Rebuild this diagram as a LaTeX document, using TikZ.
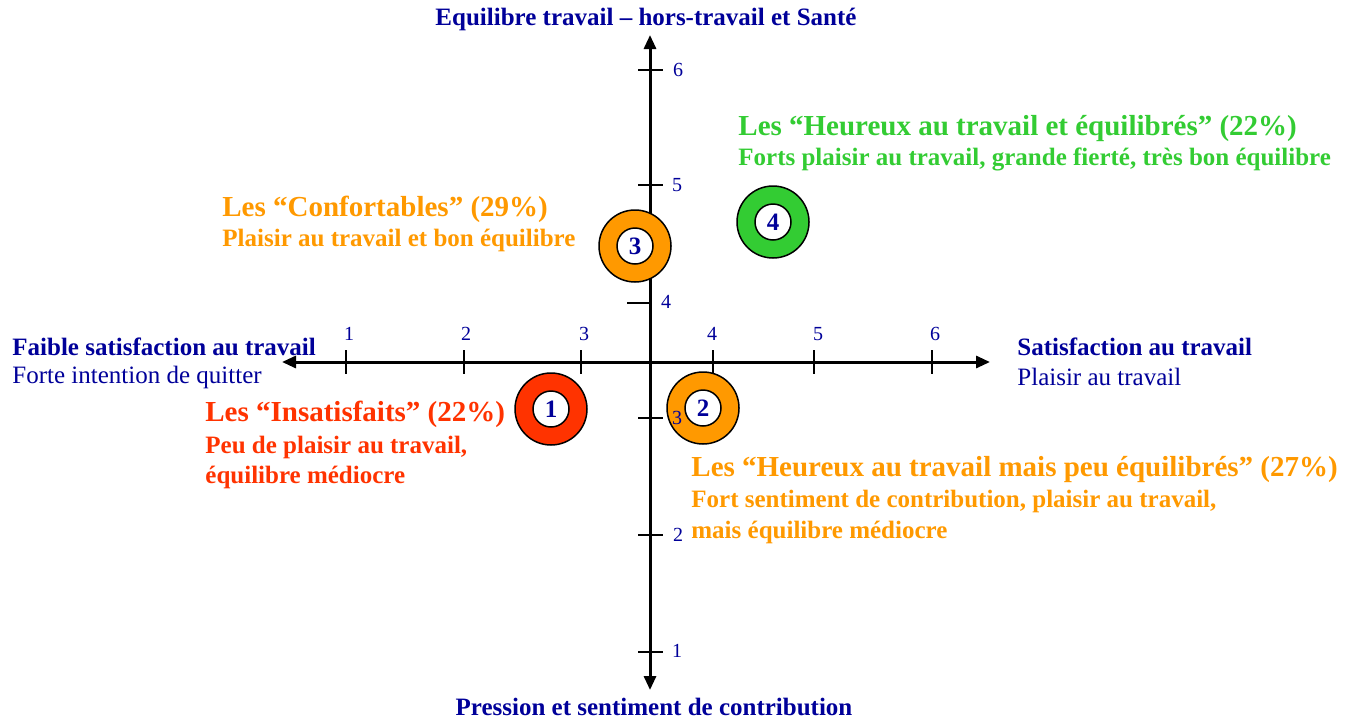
\documentclass[tikz,border=0pt]{standalone}
\usepackage{fontspec}
\setmainfont{Liberation Serif}
\usetikzlibrary{arrows.meta}
\definecolor{navy}{HTML}{000099}
\definecolor{ringgreen}{HTML}{33CC33}
\definecolor{ringorange}{HTML}{FF9900}
\definecolor{ringred}{HTML}{FF3300}
\tikzset{%
  axis/.style={line width=1.5pt,
    {Triangle[length=7pt,width=6pt]}-{Triangle[length=7pt,width=6pt]}},
  axistick/.style={line width=1pt},
  ticklabel/.style={text=navy,inner sep=0pt,
    font=\fontsize{10}{12}\selectfont},
  axislabel/.style={text=navy,inner sep=0pt,
    font=\fontsize{12.5}{15}\selectfont},
  ring/.style={circle,draw,line width=0.75pt,fill=#1,
    minimum size=36pt,inner sep=0pt},
  hole/.style={circle,draw,line width=0.75pt,fill=white,
    minimum size=18pt,inner sep=0pt,text=navy,
    font=\bfseries\fontsize{12.5}{15}\selectfont},
  grouphead/.style={text=#1,inner sep=0pt,anchor=west,
    font=\bfseries\fontsize{14.5}{17}\selectfont},
  groupbody/.style={text=#1,inner sep=0pt,anchor=west,align=left,
    font=\bfseries\fontsize{12.5}{15.25}\selectfont},
}
\begin{document}
\begin{tikzpicture}[x=0.5pt,y=-0.5pt]
  \useasboundingbox (0,0) rectangle (1347,718);
  % axes
  \coordinate (xl) at (282,362);
  \coordinate (xr) at (990,362);
  \coordinate (yt) at (650,35);
  \coordinate (yb) at (650,690);
  \draw[axis] (xl) -- (xr);
  \draw[axis] (yb) -- (yt);
  % ticks on the horizontal axis
  \foreach \x/\lx/\v in {346/349/1,464/466/2,581/584/3,713/712/4,814/818/5,932/935/6} {
    \draw[axistick] (\x,350) -- (\x,374);
    \node[ticklabel] (hx\v) at (\lx,334) {\v};
  }
  % ticks on the vertical axis
  \foreach \y/\lx/\v in {70/678/6,185/677/5,418/677/3,535/678/2,652/677/1} {
    \draw[axistick] (638,\y) -- (663,\y);
  }
  \draw[axistick] (627,303) -- (651,303);
  % axis titles
  \node[axislabel,font=\bfseries\fontsize{12.5}{15}\selectfont] (top) at (646,19)
    {Equilibre travail -- hors-travail et Santé};
  \node[axislabel,font=\bfseries\fontsize{12.5}{15}\selectfont] (bottom) at (654,707)
    {Pression et sentiment de contribution};
  \node[axislabel,anchor=west,font=\bfseries\fontsize{12.5}{15}\selectfont] (left) at (12,347)
    {Faible satisfaction au travail};
  \node[axislabel,anchor=west] (leftsub) at (12,377) {Forte intention de quitter};
  \node[axislabel,anchor=west,font=\bfseries\fontsize{12.5}{15}\selectfont] (right) at (1017,347)
    {Satisfaction au travail};
  \node[axislabel,anchor=west] (rightsub) at (1017,377) {Plaisir au travail};
  % the four groups
  \node[ring=ringred] (r1) at (551,409) {};
  \node[hole] (n1) at (r1) {1};
  \node[ring=ringorange] (r2) at (703,408) {};
  \node[hole] (n2) at (r2) {2};
  \node[ring=ringorange] (r3) at (635,246) {};
  \node[hole] (n3) at (r3) {3};
  \node[ring=ringgreen] (r4) at (773,222) {};
  \node[hole] (n4) at (r4) {4};
  % tick labels on the vertical axis, over the rings
  \foreach \y/\lx/\v in {70/678/6,185/677/5,302/666/4,418/677/3,535/678/2,651/677/1} {
    \node[ticklabel] (vy\v) at (\lx,\y) {\v};
  }
  % group texts
  \node[grouphead=ringgreen] (h4) at (738,129)
    {Les “Heureux au travail et équilibrés” (22\%)};
  \node[groupbody=ringgreen] (b4) at (738,159)
    {Forts plaisir au travail, grande fierté, très bon équilibre};
  \node[grouphead=ringorange] (h3) at (222,209) {Les “Confortables” (29\%)};
  \node[groupbody=ringorange] (b3) at (222,240) {Plaisir au travail et bon équilibre};
  \node[grouphead=ringred] (h1) at (205,414) {Les “Insatisfaits” (22\%)};
  \node[groupbody=ringred] (b1) at (205,462.5)
    {Peu de plaisir au travail,\\équilibre médiocre};
  \node[grouphead=ringorange] (h2) at (691,470)
    {Les “Heureux au travail mais peu équilibrés” (27\%)};
  \node[groupbody=ringorange] (b2) at (691,517)
    {Fort sentiment de contribution, plaisir au travail,\\mais équilibre médiocre};
\end{tikzpicture}
\end{document}
